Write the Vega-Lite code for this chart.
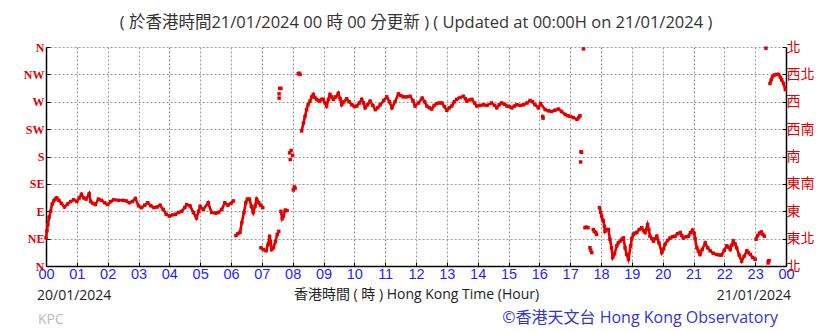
{
  "$schema": "https://vega.github.io/schema/vega-lite/v6.json",
  "width": 740,
  "height": 219,
  "autosize": {"type": "none"},
  "padding": {"left": 46, "top": 47, "right": 52, "bottom": 65},
  "background": "white",
  "title": {"text": "( 於香港時間21/01/2024 00 時 00 分更新 ) ( Updated at 00:00H on 21/01/2024 )", "fontSize": 16.5, "font": "Open Sans, Noto Sans CJK TC", "fontWeight": "normal", "color": "#333333", "offset": 9},
  "config": {"view": {"stroke": null}, "axis": {"labelOverlap": false, "labelFlush": false, "labelBound": false}, "axisX": {"labelOverlap": false, "labelFlush": false, "tickCount": 24}},
  "datasets": {
    "wind": [
      {"h":0,"d":46,"s":"a"},{"h":0.03,"d":58,"s":"a"},{"h":0.06,"d":68,"s":"a"},{"h":0.1,"d":80,"s":"a"},{"h":0.15,"d":90,"s":"a"},{"h":0.2,"d":102,"s":"a"},{"h":0.25,"d":107,"s":"a"},{"h":0.3,"d":110,"s":"a"},{"h":0.35,"d":112,"s":"a"},{"h":0.42,"d":108,"s":"a"},{"h":0.5,"d":103,"s":"a"},{"h":0.6,"d":97,"s":"a"},{"h":0.7,"d":102,"s":"a"},{"h":0.8,"d":106,"s":"a"},{"h":0.9,"d":109,"s":"a"},{"h":1.0,"d":106,"s":"a"},{"h":1.08,"d":112,"s":"a"},{"h":1.15,"d":118,"s":"a"},{"h":1.22,"d":112,"s":"a"},{"h":1.3,"d":110,"s":"a"},{"h":1.4,"d":119,"s":"a"},{"h":1.45,"d":106,"s":"a"},{"h":1.52,"d":103,"s":"a"},{"h":1.6,"d":101,"s":"a"},{"h":1.7,"d":110,"s":"a"},{"h":1.8,"d":108,"s":"a"},{"h":1.9,"d":104,"s":"a"},{"h":2.0,"d":101,"s":"a"},{"h":2.1,"d":106,"s":"a"},{"h":2.2,"d":109,"s":"a"},{"h":2.35,"d":108,"s":"a"},{"h":2.5,"d":108,"s":"a"},{"h":2.6,"d":107,"s":"a"},{"h":2.7,"d":104,"s":"a"},{"h":2.8,"d":106,"s":"a"},{"h":2.9,"d":111,"s":"a"},{"h":3.0,"d":99,"s":"a"},{"h":3.1,"d":96,"s":"a"},{"h":3.2,"d":100,"s":"a"},{"h":3.3,"d":104,"s":"a"},{"h":3.4,"d":99,"s":"a"},{"h":3.5,"d":96,"s":"a"},{"h":3.6,"d":97,"s":"a"},{"h":3.7,"d":100,"s":"a"},{"h":3.8,"d":93,"s":"a"},{"h":3.9,"d":85,"s":"a"},{"h":4.0,"d":82,"s":"a"},{"h":4.1,"d":84,"s":"a"},{"h":4.2,"d":85,"s":"a"},{"h":4.3,"d":88,"s":"a"},{"h":4.4,"d":90,"s":"a"},{"h":4.5,"d":96,"s":"a"},{"h":4.56,"d":101,"s":"a"},{"h":4.67,"d":99,"s":"a"},{"h":4.78,"d":88,"s":"a"},{"h":4.88,"d":79,"s":"a"},{"h":4.95,"d":90,"s":"a"},{"h":5.0,"d":98,"s":"a"},{"h":5.1,"d":93,"s":"a"},{"h":5.26,"d":104,"s":"a"},{"h":5.37,"d":88,"s":"a"},{"h":5.5,"d":87,"s":"a"},{"h":5.59,"d":88,"s":"a"},{"h":5.7,"d":93,"s":"a"},{"h":5.8,"d":104,"s":"a"},{"h":5.9,"d":100,"s":"a"},{"h":6.0,"d":103,"s":"a"},{"h":6.08,"d":107,"s":"a"},
      {"h":6.16,"d":50,"s":"b"},{"h":6.22,"d":53,"s":"b"},{"h":6.29,"d":55,"s":"b"},{"h":6.35,"d":71,"s":"b"},{"h":6.42,"d":88,"s":"b"},{"h":6.48,"d":104,"s":"b"},{"h":6.53,"d":110,"s":"b"},{"h":6.6,"d":110,"s":"b"},{"h":6.66,"d":98,"s":"b"},{"h":6.72,"d":88,"s":"b"},{"h":6.78,"d":98,"s":"b"},{"h":6.83,"d":110,"s":"b"},{"h":6.9,"d":104,"s":"b"},{"h":6.96,"d":100,"s":"b"},{"h":7.03,"d":96,"s":"b"},
      {"h":6.97,"d":30,"s":"c"},{"h":7.05,"d":27,"s":"c"},{"h":7.14,"d":25,"s":"c"},{"h":7.2,"d":35,"s":"c"},{"h":7.25,"d":49,"s":"c"},{"h":7.28,"d":40,"s":"c"},{"h":7.32,"d":27,"s":"c"},{"h":7.38,"d":30,"s":"c"},{"h":7.44,"d":40,"s":"c"},{"h":7.5,"d":52,"s":"c"},{"h":7.55,"d":57,"s":"c"},
      {"h":7.56,"d":276,"s":"p"},{"h":7.56,"d":283,"s":"p"},{"h":7.58,"d":292,"s":"p"},{"h":7.62,"d":292,"s":"p"},
      {"h":7.62,"d":90,"s":"d"},{"h":7.66,"d":78,"s":"d"},{"h":7.7,"d":82,"s":"d"},{"h":7.76,"d":92,"s":"d"},{"h":7.82,"d":91,"s":"d"},
      {"h":7.9,"d":186,"s":"p"},{"h":7.92,"d":175,"s":"p"},{"h":7.95,"d":190,"s":"p"},{"h":8.0,"d":182,"s":"p"},{"h":8.02,"d":125,"s":"p"},{"h":8.05,"d":130,"s":"p"},{"h":8.08,"d":128,"s":"p"},
      {"h":8.18,"d":316,"s":"p"},{"h":8.21,"d":317,"s":"p"},{"h":8.24,"d":315,"s":"p"},
      {"h":8.29,"d":222,"s":"e"},{"h":8.35,"d":235,"s":"e"},{"h":8.4,"d":246,"s":"e"},{"h":8.45,"d":257,"s":"e"},{"h":8.5,"d":265,"s":"e"},{"h":8.56,"d":271,"s":"e"},{"h":8.62,"d":278,"s":"e"},{"h":8.67,"d":282,"s":"e"},{"h":8.72,"d":277,"s":"e"},{"h":8.78,"d":274,"s":"e"},{"h":8.83,"d":272,"s":"e"},{"h":8.88,"d":271,"s":"e"},{"h":8.94,"d":274,"s":"e"},{"h":8.99,"d":274,"s":"e"},{"h":9.05,"d":268,"s":"e"},{"h":9.1,"d":263,"s":"e"},{"h":9.16,"d":274,"s":"e"},{"h":9.21,"d":282,"s":"e"},{"h":9.27,"d":278,"s":"e"},{"h":9.32,"d":274,"s":"e"},{"h":9.4,"d":278,"s":"e"},{"h":9.48,"d":284,"s":"e"},{"h":9.54,"d":275,"s":"e"},{"h":9.59,"d":265,"s":"e"},{"h":9.66,"d":270,"s":"e"},{"h":9.75,"d":275,"s":"e"},{"h":9.83,"d":270,"s":"e"},{"h":9.92,"d":265,"s":"e"},{"h":10.0,"d":262,"s":"e"},{"h":10.08,"d":263,"s":"e"},{"h":10.16,"d":268,"s":"e"},{"h":10.24,"d":274,"s":"e"},{"h":10.3,"d":268,"s":"e"},{"h":10.35,"d":260,"s":"e"},{"h":10.43,"d":265,"s":"e"},{"h":10.51,"d":271,"s":"e"},{"h":10.6,"d":264,"s":"e"},{"h":10.68,"d":257,"s":"e"},{"h":10.76,"d":260,"s":"e"},{"h":10.84,"d":265,"s":"e"},{"h":10.95,"d":272,"s":"e"},{"h":11.05,"d":278,"s":"e"},{"h":11.14,"d":270,"s":"e"},{"h":11.22,"d":260,"s":"e"},{"h":11.32,"d":270,"s":"e"},{"h":11.43,"d":283,"s":"e"},{"h":11.51,"d":280,"s":"e"},{"h":11.59,"d":278,"s":"e"},{"h":11.7,"d":278,"s":"e"},{"h":11.81,"d":279,"s":"e"},{"h":11.9,"d":272,"s":"e"},{"h":11.97,"d":263,"s":"e"},{"h":12.08,"d":268,"s":"e"},{"h":12.2,"d":276,"s":"e"},{"h":12.28,"d":270,"s":"e"},{"h":12.35,"d":263,"s":"e"},{"h":12.43,"d":260,"s":"e"},{"h":12.51,"d":258,"s":"e"},{"h":12.59,"d":264,"s":"e"},{"h":12.67,"d":267,"s":"e"},{"h":12.75,"d":268,"s":"e"},{"h":12.84,"d":268,"s":"e"},{"h":12.92,"d":262,"s":"e"},{"h":13.0,"d":256,"s":"e"},{"h":13.08,"d":260,"s":"e"},{"h":13.16,"d":263,"s":"e"},{"h":13.24,"d":270,"s":"e"},{"h":13.32,"d":274,"s":"e"},{"h":13.43,"d":277,"s":"e"},{"h":13.54,"d":279,"s":"e"},{"h":13.6,"d":275,"s":"e"},{"h":13.65,"d":271,"s":"e"},{"h":13.73,"d":273,"s":"e"},{"h":13.81,"d":274,"s":"e"},{"h":13.9,"d":268,"s":"e"},{"h":13.97,"d":263,"s":"e"},{"h":14.08,"d":264,"s":"e"},{"h":14.19,"d":265,"s":"e"},{"h":14.3,"d":264,"s":"e"},{"h":14.45,"d":268,"s":"e"},{"h":14.55,"d":264,"s":"e"},{"h":14.62,"d":260,"s":"e"},{"h":14.7,"d":265,"s":"e"},{"h":14.78,"d":268,"s":"e"},{"h":14.87,"d":266,"s":"e"},{"h":14.95,"d":263,"s":"e"},{"h":15.03,"d":262,"s":"e"},{"h":15.11,"d":260,"s":"e"},{"h":15.19,"d":263,"s":"e"},{"h":15.27,"d":265,"s":"e"},{"h":15.38,"d":264,"s":"e"},{"h":15.49,"d":265,"s":"e"},{"h":15.6,"d":268,"s":"e"},{"h":15.7,"d":272,"s":"e"},{"h":15.78,"d":270,"s":"e"},{"h":15.86,"d":265,"s":"e"},{"h":15.97,"d":260,"s":"e"},{"h":16.04,"d":267,"s":"e"},{"h":16.19,"d":257,"s":"e"},{"h":16.3,"d":255,"s":"e"},{"h":16.4,"d":254,"s":"e"},{"h":16.5,"d":256,"s":"e"},{"h":16.62,"d":258,"s":"e"},{"h":16.72,"d":254,"s":"e"},{"h":16.84,"d":249,"s":"e"},{"h":16.92,"d":247,"s":"e"},{"h":17.0,"d":246,"s":"e"},{"h":17.1,"d":244,"s":"e"},{"h":17.22,"d":241,"s":"e"},{"h":17.28,"d":244,"s":"e"},{"h":17.32,"d":247,"s":"e"},
      {"h":16.11,"d":246,"s":"p"},{"h":16.12,"d":243,"s":"p"},
      {"h":17.34,"d":171,"s":"p"},{"h":17.35,"d":188,"s":"p"},{"h":17.37,"d":187,"s":"p"},{"h":17.43,"d":357,"s":"p"},
      {"h":17.48,"d":63,"s":"p"},{"h":17.52,"d":64,"s":"p"},{"h":17.58,"d":63,"s":"p"},{"h":17.64,"d":30,"s":"p"},{"h":17.67,"d":26,"s":"p"},{"h":17.7,"d":22,"s":"p"},{"h":17.75,"d":60,"s":"p"},{"h":17.78,"d":57,"s":"p"},{"h":17.83,"d":55,"s":"p"},{"h":17.86,"d":52,"s":"p"},
      {"h":17.95,"d":96,"s":"f"},{"h":17.99,"d":88,"s":"f"},{"h":18.02,"d":82,"s":"f"},{"h":18.05,"d":76,"s":"f"},{"h":18.08,"d":74,"s":"f"},{"h":18.11,"d":65,"s":"f"},{"h":18.13,"d":57,"s":"f"},{"h":18.18,"d":60,"s":"f"},{"h":18.24,"d":60,"s":"f"},{"h":18.29,"d":44,"s":"f"},{"h":18.34,"d":30,"s":"f"},{"h":18.38,"d":14,"s":"f"},{"h":18.44,"d":20,"s":"f"},{"h":18.51,"d":33,"s":"f"},{"h":18.56,"d":38,"s":"f"},{"h":18.62,"d":41,"s":"f"},{"h":18.68,"d":44,"s":"f"},{"h":18.73,"d":46,"s":"f"},{"h":18.78,"d":30,"s":"f"},{"h":18.83,"d":19,"s":"f"},{"h":18.89,"d":11,"s":"f"},{"h":18.96,"d":33,"s":"f"},{"h":19.0,"d":45,"s":"f"},{"h":19.05,"d":52,"s":"f"},{"h":19.1,"d":54,"s":"f"},{"h":19.16,"d":55,"s":"f"},{"h":19.24,"d":60,"s":"f"},{"h":19.32,"d":63,"s":"f"},{"h":19.38,"d":58,"s":"f"},{"h":19.43,"d":55,"s":"f"},{"h":19.51,"d":68,"s":"f"},{"h":19.55,"d":60,"s":"f"},{"h":19.59,"d":49,"s":"f"},{"h":19.65,"d":45,"s":"f"},{"h":19.7,"d":41,"s":"f"},{"h":19.76,"d":45,"s":"f"},{"h":19.81,"d":49,"s":"f"},{"h":19.88,"d":38,"s":"f"},{"h":19.97,"d":22,"s":"f"},{"h":20.03,"d":28,"s":"f"},{"h":20.08,"d":36,"s":"f"},{"h":20.16,"d":42,"s":"f"},{"h":20.24,"d":46,"s":"f"},{"h":20.32,"d":48,"s":"f"},{"h":20.4,"d":49,"s":"f"},{"h":20.48,"d":53,"s":"f"},{"h":20.57,"d":55,"s":"f"},{"h":20.62,"d":50,"s":"f"},{"h":20.67,"d":46,"s":"f"},{"h":20.76,"d":48,"s":"f"},{"h":20.84,"d":49,"s":"f"},{"h":20.9,"d":55,"s":"f"},{"h":20.97,"d":59,"s":"f"},{"h":21.02,"d":54,"s":"f"},{"h":21.05,"d":45,"s":"f"},{"h":21.11,"d":30,"s":"f"},{"h":21.16,"d":24,"s":"f"},{"h":21.21,"d":19,"s":"f"},{"h":21.28,"d":27,"s":"f"},{"h":21.38,"d":38,"s":"f"},{"h":21.46,"d":30,"s":"f"},{"h":21.54,"d":25,"s":"f"},{"h":21.64,"d":21,"s":"f"},{"h":21.75,"d":19,"s":"f"},{"h":21.84,"d":18,"s":"f"},{"h":21.91,"d":18,"s":"f"},{"h":22.0,"d":26,"s":"f"},{"h":22.08,"d":33,"s":"f"},{"h":22.14,"d":31,"s":"f"},{"h":22.19,"d":27,"s":"f"},{"h":22.24,"d":34,"s":"f"},{"h":22.29,"d":41,"s":"f"},{"h":22.35,"d":36,"s":"f"},{"h":22.4,"d":30,"s":"f"},{"h":22.48,"d":18,"s":"f"},{"h":22.56,"d":8,"s":"f"},{"h":22.64,"d":16,"s":"f"},{"h":22.73,"d":25,"s":"f"},{"h":22.78,"d":22,"s":"f"},{"h":22.84,"d":19,"s":"f"},{"h":22.92,"d":14,"s":"f"},{"h":23.0,"d":11,"s":"f"},
      {"h":23.03,"d":44,"s":"g"},{"h":23.08,"d":50,"s":"g"},{"h":23.14,"d":54,"s":"g"},{"h":23.2,"d":56,"s":"g"},{"h":23.25,"d":52,"s":"g"},{"h":23.3,"d":49,"s":"g"},
      {"h":23.35,"d":358,"s":"p"},{"h":23.42,"d":5,"s":"p"},{"h":23.43,"d":8,"s":"p"},{"h":23.45,"d":9,"s":"p"},
      {"h":23.48,"d":300,"s":"h"},{"h":23.52,"d":306,"s":"h"},{"h":23.56,"d":311,"s":"h"},{"h":23.62,"d":314,"s":"h"},{"h":23.7,"d":315,"s":"h"},{"h":23.76,"d":315,"s":"h"},{"h":23.82,"d":310,"s":"h"},{"h":23.86,"d":306,"s":"h"},{"h":23.92,"d":300,"s":"h"},{"h":23.98,"d":290,"s":"h"}
    ]
  },
  "layer": [
    {
      "data": {"name": "wind"},
      "transform": [{"filter": "datum.s != 'p'"}],
      "mark": {"type": "line", "color": "#e00000", "strokeWidth": 2.6},
      "encoding": {
        "x": {"field": "h", "type": "quantitative", "scale": {"domain": [0, 24], "nice": false},
          "axis": {"tickCount": 24,
            "labelExpr": "(datum.value % 24 < 10 ? '0' : '') + (datum.value % 24)",
            "labelColor": "#1f1fff", "labelFont": "Liberation Sans", "labelFontSize": 14.5, "labelPadding": 5,
            "labelOverlap": false, "labelFlush": false, "labelBound": false,
            "tickSize": -4, "tickColor": "#000000", "domainColor": "#000000", "domainWidth": 1.5,
            "grid": true, "gridColor": "#999999", "gridDash": [2, 2], "gridWidth": 1,
            "title": "香港時間 ( 時 ) Hong Kong Time (Hour)", "titleFont": "Open Sans, Noto Sans CJK TC", "titleFontSize": 14, "titleFontWeight": "normal", "titleColor": "#222222", "titlePadding": 7}},
        "y": {"field": "d", "type": "quantitative", "scale": {"domain": [0, 360], "nice": false},
          "axis": {"orient": "left", "values": [0,45,90,135,180,225,270,315,360],
            "labelExpr": "['N','NE','E','SE','S','SW','W','NW','N'][round(datum.value/45)]",
            "labelColor": "#e00000", "labelFont": "Liberation Serif", "labelFontSize": 12, "labelFontWeight": "bold", "labelPadding": 6,
            "labelOverlap": false, "labelFlush": false, "labelBound": false,
            "tickSize": -4, "tickColor": "#000000", "domainColor": "#000000", "domainWidth": 1.5,
            "grid": true, "gridColor": "#999999", "gridDash": [2, 2], "gridWidth": 1, "title": null}},
        "detail": {"field": "s"}
      }
    },
    {
      "data": {"name": "wind"},
      "mark": {"type": "point", "shape": "square", "filled": true, "color": "#e00000", "size": 12, "opacity": 1},
      "encoding": {
        "x": {"field": "h", "type": "quantitative"},
        "y": {"field": "d", "type": "quantitative",
          "axis": {"orient": "right", "values": [0,45,90,135,180,225,270,315,360],
            "labelExpr": "['北','東北','東','東南','南','西南','西','西北','北'][round(datum.value/45)]",
            "labelColor": "#e00000", "labelFont": "Noto Sans CJK TC", "labelFontSize": 14, "labelPadding": 4,
            "labelOverlap": false, "labelFlush": false, "labelBound": false,
            "tickSize": -4, "tickColor": "#000000", "domainColor": "#000000", "domainWidth": 1.5,
            "grid": false, "title": null}}
      }
    },
    {
      "data": {"values": [{"h": 0, "d": 0, "t": "20/01/2024"}]},
      "mark": {"type": "text", "align": "left", "baseline": "middle", "dx": -9, "dy": 30, "font": "Open Sans", "fontSize": 14, "color": "#222222"},
      "encoding": {"x": {"field": "h", "type": "quantitative"}, "y": {"field": "d", "type": "quantitative", "axis": null}, "text": {"field": "t"}}
    },
    {
      "data": {"values": [{"h": 24, "d": 0, "t": "21/01/2024"}]},
      "mark": {"type": "text", "align": "right", "baseline": "middle", "dx": 5, "dy": 30, "font": "Open Sans", "fontSize": 14, "color": "#222222"},
      "encoding": {"x": {"field": "h", "type": "quantitative"}, "y": {"field": "d", "type": "quantitative", "axis": null}, "text": {"field": "t"}}
    },
    {
      "data": {"values": [{"h": 0, "d": 0, "t": "KPC"}]},
      "mark": {"type": "text", "align": "left", "baseline": "middle", "dx": -8, "dy": 54, "font": "Open Sans", "fontSize": 14, "color": "#bbbbbb"},
      "encoding": {"x": {"field": "h", "type": "quantitative"}, "y": {"field": "d", "type": "quantitative", "axis": null}, "text": {"field": "t"}}
    },
    {
      "data": {"values": [{"h": 24, "d": 0, "t": "©香港天文台 Hong Kong Observatory"}]},
      "mark": {"type": "text", "align": "right", "baseline": "middle", "dx": -8, "dy": 52, "font": "Open Sans, Noto Sans CJK TC", "fontSize": 16, "color": "#3535d0"},
      "encoding": {"x": {"field": "h", "type": "quantitative"}, "y": {"field": "d", "type": "quantitative", "axis": null}, "text": {"field": "t"}}
    }
  ],
  "resolve": {"axis": {"y": "independent"}}
}
